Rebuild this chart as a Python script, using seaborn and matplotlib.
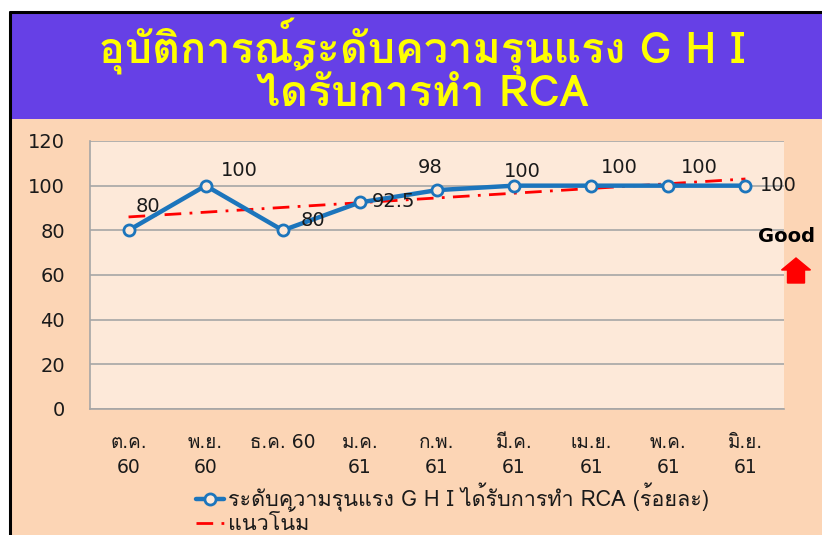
import numpy as np
import pandas as pd
import matplotlib
matplotlib.use("Agg")
import matplotlib.pyplot as plt
import seaborn as sns
from matplotlib import font_manager
from matplotlib.ft2font import FT2Font
from matplotlib.patches import Rectangle, FancyArrow

months = ["ต.ค.\n60", "พ.ย.\n60", "ธ.ค. 60", "ม.ค.\n61", "ก.พ.\n61",
          "มี.ค.\n61", "เม.ย.\n61", "พ.ค.\n61", "มิ.ย.\n61"]
values = [80, 100, 80, 92.5, 98, 100, 100, 100, 100]
value_labels = ["80", "100", "80", "92.5", "98", "100", "100", "100", "100"]
yticks = [0, 20, 40, 60, 80, 100, 120]
series_name = "ระดับความรุนแรง G H I ได้รับการทำ RCA (ร้อยละ)"
trend_name = "แนวโน้ม"
title_lines = ["อุบัติการณ์ระดับความรุนแรง G H I", "ได้รับการทำ RCA"]

# find a font with Thai glyphs
thai_fonts = []
for f in font_manager.fontManager.ttflist:
    try:
        ft = FT2Font(f.fname)
        cm = ft.get_charmap()
        if 0x0E01 in cm and 0x0E33 in cm:
            thai_fonts.append(f.name)
    except Exception:
        pass
thai_fonts = list(dict.fromkeys(thai_fonts))

sns.set_theme(style="white")
thai_fam = thai_fonts[:2] + ["DejaVu Sans"]
plt.rcParams["font.family"] = thai_fam
num_fam = ["DejaVu Sans"]
tick_fam = ["DejaVu Sans"] + thai_fonts[:2]

df = pd.DataFrame({"x": np.arange(len(values)), "y": values})
coef = np.polyfit(df["x"], df["y"], 1)
df["trend"] = np.polyval(coef, df["x"])

W, H = 822, 535
fig = plt.figure(figsize=(W / 100, H / 100), dpi=100)
fig.patch.set_facecolor("white")

purple = "#6640E6"
peach = "#FCD5B5"
plotbg = "#FDE9D9"
blue = "#1C75BC"
txt = "#1a1a1a"

# background panels
fig.add_artist(Rectangle((9 / W, 0), 1, 1 - 119 / H, transform=fig.transFigure,
                         facecolor=peach, edgecolor="none", zorder=0))
fig.add_artist(Rectangle((9 / W, 1 - 119 / H), 1, (119 - 12) / H, transform=fig.transFigure,
                         facecolor=purple, edgecolor="none", zorder=0))
fig.add_artist(plt.Line2D([9.5 / W, 9.5 / W], [0, 1 - 12 / H], transform=fig.transFigure,
                          color="black", lw=2.2, zorder=1))
fig.add_artist(plt.Line2D([9.5 / W, 1], [1 - 12 / H, 1 - 12 / H], transform=fig.transFigure,
                          color="black", lw=2.2, zorder=1))

for line, yc in zip(title_lines, [47, 91]):
    fig.text(422 / W, 1 - yc / H, line, ha="center", va="center", color="#FFFF00",
             fontsize=31, fontweight="bold")

ax = fig.add_axes([90 / W, 1 - 409 / H, (784 - 90) / W, (409 - 141) / H])
ax.set_facecolor(plotbg)

sns.lineplot(data=df, x="x", y="trend", ax=ax, color="#FF0000", lw=2.0,
             linestyle=(0, (6, 3, 1, 3)), label=trend_name, zorder=2)
sns.lineplot(data=df, x="x", y="y", ax=ax, color=blue, lw=3.2, marker="o",
             markersize=8, markerfacecolor=plotbg, markeredgecolor=blue,
             markeredgewidth=2.0, label=series_name, zorder=3)

offsets = [(14, 17), (24, 11), (22, 7), (24, 1), (-5, 16), (6, 10), (20, 13), (22, 13), (24, 0)]
for i, (v, lab) in enumerate(zip(values, value_labels)):
    dx, dy = offsets[i]
    ax.annotate(lab, (i, v), xytext=(dx, dy), textcoords="offset points",
                ha="center", va="center", fontsize=14, color=txt, zorder=4,
                family=num_fam)

ax.set_xlim(-0.5, len(values) - 0.5)
ax.set_ylim(0, 120)
ax.set_yticks(yticks)
ax.set_yticklabels([str(t) for t in yticks], fontsize=14, color=txt, family=num_fam)
ax.set_xticks(range(len(months)))
ax.set_xticklabels(months, fontsize=13.5, color=txt, va="top", linespacing=1.45,
                   family=tick_fam)
ax.tick_params(axis="x", length=0, pad=17)
ax.tick_params(axis="y", length=0, pad=18)
ax.grid(axis="y", color="#A6A6A6", lw=1.2)
ax.set_axisbelow(True)
for s in ["left", "bottom", "top"]:
    ax.spines[s].set_visible(s in ["left", "bottom"])
    ax.spines[s].set_color("#A6A6A6")
    ax.spines[s].set_linewidth(1.2)
ax.spines["right"].set_visible(False)
ax.set_xlabel("")
ax.set_ylabel("")

handles, labels = ax.get_legend_handles_labels()
order = [labels.index(series_name), labels.index(trend_name)]
leg = fig.legend([handles[i] for i in order], [labels[i] for i in order],
                 loc="center left", bbox_to_anchor=(196 / W, 1 - 509 / H),
                 frameon=False, fontsize=15.5, handlelength=1.3, handletextpad=0.2,
                 labelspacing=0.0, borderaxespad=0, borderpad=0)
ax.get_legend().remove()
for t in leg.get_texts():
    t.set_color(txt)

fig.text(786 / W, 1 - 237 / H, "Good", ha="center", va="center", fontsize=14,
         fontweight="bold", color="black", family=num_fam)
fig.add_artist(FancyArrow(796 / W, 1 - 283 / H, 0, 13 / H, width=17 / W,
                          head_width=29 / W, head_length=12 / H, length_includes_head=False,
                          transform=fig.transFigure, color="#FF0000", zorder=5))

fig.savefig("out.png", dpi=100, facecolor=fig.get_facecolor())
